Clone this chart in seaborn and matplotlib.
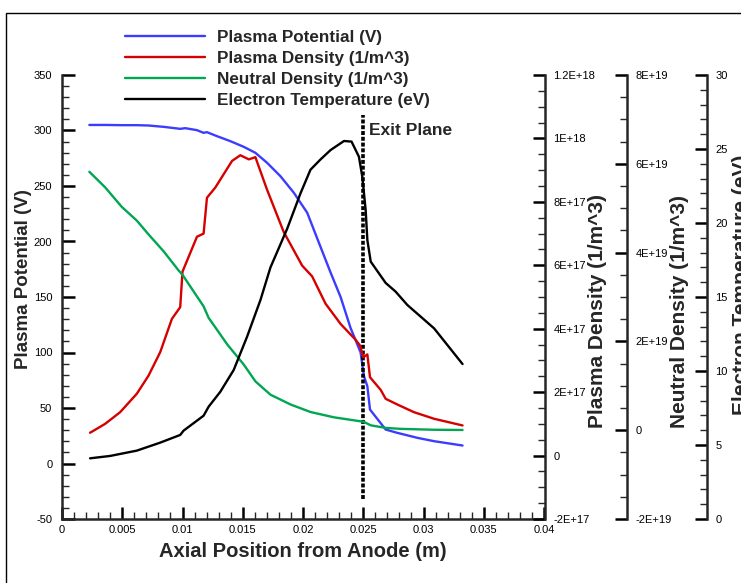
import matplotlib
matplotlib.use("Agg")
import matplotlib.pyplot as plt
import matplotlib.patches as mpatches
from matplotlib.ticker import FixedLocator, FixedFormatter, MultipleLocator
import seaborn as sns
import pandas as pd

# ---------------- data ----------------
pot_x = [0.00227, 0.00358, 0.00496, 0.00621, 0.00718, 0.00843, 0.00981, 0.01023, 0.0112,
         0.01175, 0.01203, 0.01286, 0.01397, 0.01508, 0.01605, 0.01702, 0.01813, 0.01924,
         0.02035, 0.02146, 0.02229, 0.02312, 0.02395, 0.02437, 0.02478, 0.02506, 0.02534,
         0.02556, 0.02686, 0.02783, 0.0295, 0.03088, 0.03324]
pot_v = [305, 305, 304.8, 304.8, 304.5, 303.3, 301.5, 302.1, 300.3,
         297.9, 298.5, 294.9, 290.4, 285.3, 279.9, 270.9, 258.8, 243.9,
         225.9, 195, 172, 150, 122, 111, 100, 78.6, 69.6,
         48.6, 30.6, 27.6, 23.1, 20.1, 16.2]

pden_x = [0.00233, 0.00358, 0.00483, 0.00621, 0.00718, 0.00815, 0.00912, 0.00981, 0.0100,
          0.0112, 0.01175, 0.01203, 0.01272, 0.01411, 0.0148, 0.0155, 0.01605, 0.0170,
          0.0184, 0.01993, 0.02076, 0.02187, 0.02312, 0.02437, 0.02473, 0.0250, 0.02534,
          0.02556, 0.02645, 0.02686, 0.02783, 0.0292, 0.03088, 0.03324]
pden_v = [7.2e16, 1.0e17, 1.37e17, 1.95e17, 2.52e17, 3.26e17, 4.31e17, 4.68e17, 5.8e17,
          6.9e17, 7.0e17, 8.13e17, 8.45e17, 9.29e17, 9.47e17, 9.34e17, 9.41e17, 8.4e17,
          7.05e17, 5.99e17, 5.65e17, 4.79e17, 4.15e17, 3.65e17, 3.47e17, 3.1e17, 3.19e17,
          2.47e17, 2.07e17, 1.79e17, 1.61e17, 1.37e17, 1.16e17, 9.5e16]

nden_x = [0.00227, 0.00358, 0.00496, 0.00621, 0.00718, 0.00843, 0.00967, 0.0100, 0.01175,
          0.01217, 0.01372, 0.01508, 0.01605, 0.0173, 0.01896, 0.02062, 0.02257, 0.02478,
          0.02506, 0.02562, 0.02686, 0.02811, 0.03088, 0.03324]
nden_v = [5.82e19, 5.47e19, 5.03e19, 4.72e19, 4.41e19, 4.03e19, 3.6e19, 3.5e19, 2.79e19,
          2.53e19, 1.93e19, 1.48e19, 1.10e19, 8.0e18, 5.8e18, 4.1e18, 2.9e18, 2.0e18,
          1.87e18, 1.1e18, 5.2e17, 3e17, 1e17, 5e16]

te_x = [0.00233, 0.00399, 0.00621, 0.00815, 0.00981, 0.01009, 0.01175, 0.01217, 0.01314,
        0.01425, 0.01536, 0.01647, 0.0173, 0.01868, 0.01979, 0.02062, 0.02146, 0.02229,
        0.0234, 0.02403, 0.02464, 0.02492, 0.0252, 0.02534, 0.02562, 0.02686, 0.02769,
        0.02866, 0.03088, 0.03324]
te_v = [4.1, 4.26, 4.62, 5.16, 5.68, 5.97, 6.98, 7.59, 8.6,
        10.07, 12.32, 14.8, 17.0, 19.6, 22.0, 23.6, 24.3, 24.93,
        25.54, 25.5, 24.48, 23.13, 20.88, 18.85, 17.39, 15.95, 15.36,
        14.46, 12.88, 10.47]

series_names = ["Plasma Potential (V)", "Plasma Density (1/m^3)",
                "Neutral Density (1/m^3)", "Electron Temperature (eV)"]

x_ticks = [0, 0.005, 0.01, 0.015, 0.02, 0.025, 0.03, 0.035, 0.04]
x_ticklabels = ["0", "0.005", "0.01", "0.015", "0.02", "0.025", "0.03", "0.035", "0.04"]
pot_ticks = [-50, 0, 50, 100, 150, 200, 250, 300, 350]
pot_ticklabels = ["-50", "0", "50", "100", "150", "200", "250", "300", "350"]
pden_ticks = [-2e17, 0, 2e17, 4e17, 6e17, 8e17, 1e18, 1.2e18]
pden_ticklabels = ["-2E+17", "0", "2E+17", "4E+17", "6E+17", "8E+17", "1E+18", "1.2E+18"]
nden_ticks = [-2e19, 0, 2e19, 4e19, 6e19, 8e19]
nden_ticklabels = ["-2E+19", "0", "2E+19", "4E+19", "6E+19", "8E+19"]
te_ticks = [0, 5, 10, 15, 20, 25, 30]
te_ticklabels = ["0", "5", "10", "15", "20", "25", "30"]

exit_x = 0.025
exit_y = [-32, 314]
exit_text_pos = (0.02545, 300)

# ---------------- style ----------------
sns.set_style("ticks")
plt.rcParams["font.family"] = ["Liberation Sans", "DejaVu Sans"]

W, H = 741, 583
fig = plt.figure(figsize=(W / 100, H / 100), dpi=100)

L, R, T, B = 62, 544, 75, 519
ax = fig.add_axes([L / W, (H - B) / H, (R - L) / W, (B - T) / H])
ax2 = ax.twinx()
ax3 = ax.twinx()
ax4 = ax.twinx()

colors = ["#3c3cff", "#d60000", "#00a651", "#000000"]
lw = 1.7

sns.lineplot(data=pd.DataFrame({"x": pot_x, "y": pot_v}), x="x", y="y", ax=ax,
             color=colors[0], lw=lw, label=series_names[0], legend=False)
sns.lineplot(data=pd.DataFrame({"x": pden_x, "y": pden_v}), x="x", y="y", ax=ax2,
             color=colors[1], lw=lw, label=series_names[1], legend=False)
sns.lineplot(data=pd.DataFrame({"x": nden_x, "y": nden_v}), x="x", y="y", ax=ax3,
             color=colors[2], lw=lw, label=series_names[2], legend=False)
sns.lineplot(data=pd.DataFrame({"x": te_x, "y": te_v}), x="x", y="y", ax=ax4,
             color=colors[3], lw=lw, label=series_names[3], legend=False)

ax.vlines(exit_x, exit_y[0], exit_y[1], colors="black", lw=2.6,
          linestyles=(0, (1.1, 0.5)))
ax.text(exit_text_pos[0], exit_text_pos[1], "Exit Plane", fontsize=12.5,
        fontweight="bold", ha="left", va="center")

# ---- axes ranges / ticks ----
ax.set_xlim(0, 0.04)
ax.set_ylim(-50, 350)
ax2.set_ylim(-2e17, 1.2e18)
ax3.set_ylim(-2e19, 8e19)
ax4.set_ylim(0, 30)

spine_lw = 1.8
tick_kw = dict(direction="in", labelsize=8, colors="black")

ax.xaxis.set_major_locator(FixedLocator(x_ticks))
ax.xaxis.set_major_formatter(FixedFormatter(x_ticklabels))
ax.xaxis.set_minor_locator(MultipleLocator(0.001))
ax.yaxis.set_major_locator(FixedLocator(pot_ticks))
ax.yaxis.set_major_formatter(FixedFormatter(pot_ticklabels))
ax.yaxis.set_minor_locator(MultipleLocator(10))
ax.xaxis.set_ticks_position("bottom")
ax.yaxis.set_ticks_position("left")
ax.tick_params(axis="x", which="major", length=9, width=1.8, pad=4, **tick_kw)
ax.tick_params(axis="x", which="minor", length=5, width=1.0, direction="in")
ax.tick_params(axis="y", which="major", length=9, width=1.8, pad=7, **tick_kw)
ax.tick_params(axis="y", which="minor", length=5, width=1.0, direction="in")
for s in ["top", "right"]:
    ax.spines[s].set_visible(False)
for s in ["left", "bottom"]:
    ax.spines[s].set_linewidth(spine_lw)

for a, pos, ticks, labels, minor in [
    (ax2, 1.0 + 1 / (R - L), pden_ticks, pden_ticklabels, 5e16),
    (ax3, (627 - L) / (R - L), nden_ticks, nden_ticklabels, 5e18),
    (ax4, (707 - L) / (R - L), te_ticks, te_ticklabels, 1),
]:
    for s in ["top", "left", "bottom"]:
        a.spines[s].set_visible(False)
    a.spines["right"].set_position(("axes", pos))
    a.spines["right"].set_linewidth(spine_lw)
    a.yaxis.set_major_locator(FixedLocator(ticks))
    a.yaxis.set_major_formatter(FixedFormatter(labels))
    a.yaxis.set_minor_locator(MultipleLocator(minor))
    a.tick_params(axis="y", which="major", length=9, width=1.8, pad=6, **tick_kw)
    a.tick_params(axis="y", which="minor", length=5, width=1.0, direction="in")
    a.set_xlabel("")

# ---- axis labels ----
ax.set_xlabel("Axial Position from Anode (m)", fontsize=14.5, fontweight="bold")
ax.xaxis.set_label_coords(0.5, (B - 542) / (B - T))
ax.set_ylabel(series_names[0], fontsize=13.5, fontweight="bold")
ax.yaxis.set_label_coords((32 - L) / (R - L), (B - 279) / (B - T))
lab_kw = dict(fontsize=15, fontweight="bold")
ax2.set_ylabel(series_names[1], **lab_kw)
ax2.yaxis.set_label_coords((588 - L) / (R - L), (B - 311) / (B - T))
ax3.set_ylabel(series_names[2], **lab_kw)
ax3.yaxis.set_label_coords((670 - L) / (R - L), (B - 311) / (B - T))
ax4.set_ylabel(series_names[3], **lab_kw)
ax4.yaxis.set_label_coords((732 - L) / (R - L), (B - 285) / (B - T))
for a in (ax2, ax3, ax4):
    a.yaxis.label.set_rotation(90)

# ---- legend ----
handles = [a.get_lines()[0] for a in (ax, ax2, ax3, ax4)]
fig.legend(handles, series_names, loc="upper left",
           bbox_to_anchor=(125 / W, 1 - 30 / H), frameon=False,
           prop=dict(size=12.3, weight="bold"), handlelength=4.68,
           handletextpad=0.7, labelspacing=0.36, borderpad=0, borderaxespad=0)

# ---- outer frame (cropped) ----
fig.patches.append(mpatches.Rectangle((6 / W, -0.2), 1.5, 1.2 - 13 / H,
                                      transform=fig.transFigure, fill=False,
                                      lw=1.0, edgecolor="black", zorder=0))

fig.savefig("out.png", dpi=100)
